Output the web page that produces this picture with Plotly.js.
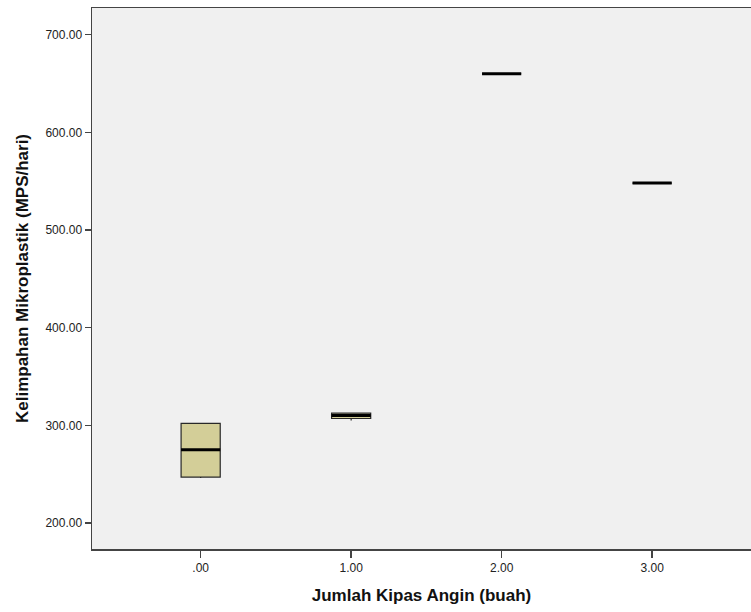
<!DOCTYPE html>
<html>
<head>
<meta charset="utf-8">
<script src="https://cdn.plot.ly/plotly-3.0.1.min.js"></script>
<style>
html,body{margin:0;padding:0;background:#fff;overflow:hidden;}
#chart{width:751px;height:612px;}
</style>
</head>
<body>
<div id="chart"></div>
<script>
// Groups (Jumlah Kipas Angin)
const groups = [0, 1, 2, 3];
const groupLabels = ['.00', '1.00', '2.00', '3.00'];
// Box statistics (MPS/hari)
const lowerFence = [246, 305, 660, 548];
const q1 = [247, 307, 660, 548];
const median = [275, 310, 660, 548];
const q3 = [302, 312.5, 660, 548];
const upperFence = [302, 312.5, 660, 548];
// Y tick labels
const yTickVals = [200, 300, 400, 500, 600, 700];
const yTickText = ['200.00', '300.00', '400.00', '500.00', '600.00', '700.00'];

const boxTrace = {
  type: 'box',
  x: groups,
  q1: q1,
  median: median,
  q3: q3,
  lowerfence: lowerFence,
  upperfence: upperFence,
  width: 0.26,
  whiskerwidth: 0,
  fillcolor: 'rgb(211,206,152)',
  line: {color: 'rgb(40,40,40)', width: 1.2},
  boxpoints: false,
  hoverinfo: 'skip',
  showlegend: false
};

const medianTrace = {
  type: 'scatter',
  mode: 'markers',
  x: groups,
  y: median,
  marker: {symbol: 'line-ew', size: 28, color: '#000', line: {color: '#000', width: 3}},
  hoverinfo: 'skip',
  showlegend: false
};

const titleFont = {size: 17, color: '#111', family: 'Liberation Sans, Arial, sans-serif', weight: 'bold'};

const layout = {
  width: 751,
  height: 612,
  margin: {l: 92, r: 0, t: 8, b: 63},
  paper_bgcolor: '#ffffff',
  plot_bgcolor: '#f0f0f0',
  showlegend: false,
  font: {family: 'Liberation Sans, Arial, sans-serif', size: 12, color: '#222'},
  xaxis: {
    range: [-0.722, 3.657],
    tickvals: groups,
    ticktext: groupLabels,
    ticks: 'outside',
    ticklen: 7,
    tickwidth: 1.5,
    tickcolor: '#444',
    showgrid: false,
    zeroline: false,
    showline: true,
    linecolor: '#444',
    linewidth: 1.5,
    mirror: true,
    tickfont: {size: 12, color: '#222'},
    title: {text: 'Jumlah Kipas Angin (buah)', font: titleFont, standoff: 15}
  },
  yaxis: {
    range: [173.4, 727.3],
    tickvals: yTickVals,
    ticktext: yTickText,
    ticks: 'outside',
    ticklen: 6,
    tickwidth: 1.5,
    tickcolor: '#444',
    showgrid: false,
    zeroline: false,
    showline: true,
    linecolor: '#444',
    linewidth: 1.5,
    mirror: false,
    tickfont: {size: 12, color: '#222'},
    title: {text: 'Kelimpahan Mikroplastik (MPS/hari)', font: titleFont, standoff: 12}
  }
};

Plotly.newPlot('chart', [boxTrace, medianTrace], layout, {displayModeBar: false, staticPlot: true});
</script>
</body>
</html>
